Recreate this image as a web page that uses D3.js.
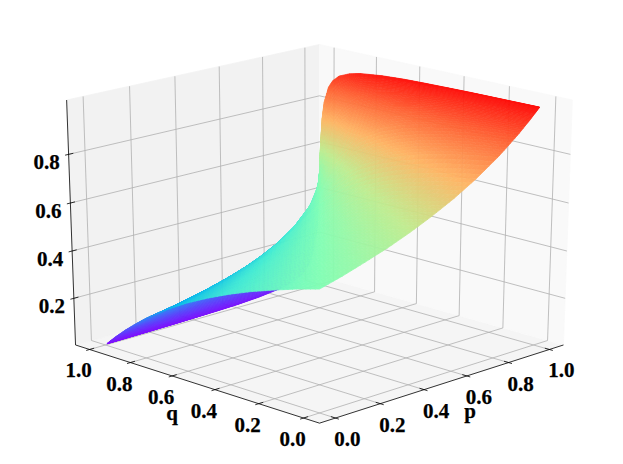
<!DOCTYPE html>
<html><head><meta charset="utf-8">
<script src="https://cdn.jsdelivr.net/npm/d3@7"></script>
<style>html,body{margin:0;padding:0;background:#fff}svg{display:block}
text{font-family:"Liberation Serif","Times New Roman",serif;font-weight:bold;font-size:21px;fill:#000;stroke:#000;stroke-width:.25;text-anchor:middle;dominant-baseline:central}</style>
</head><body><svg id="c" width="623" height="464"></svg>
<script>
// ---- data ----
const pValues = [0,.1,.2,.3,.4,.5,.6,.7,.8,.85,.9,.93,.95,.97,.98,.99,.993];
const qValues = [0,.1,.2,.3,.4,.5,.6,.7,.8,.85,.9,.93,.95,.97,.98,.99,.993];
const zQ000 = [.500,.526,.556,.588,.625,.667,.714,.769,.833,.870,.909,.935,.952,.971,.980,.990,.993];
const zQ010 = [.474,.500,.529,.563,.600,.643,.692,.750,.818,.857,.900,.928,.947,.968,.978,.989,.992];
const zQ020 = [.444,.471,.500,.533,.571,.615,.667,.727,.800,.842,.889,.920,.941,.964,.976,.988,.991];
const zQ030 = [.412,.438,.467,.500,.538,.583,.636,.700,.778,.824,.875,.909,.933,.959,.972,.986,.990];
const zQ040 = [.375,.400,.429,.462,.500,.545,.600,.667,.750,.800,.857,.896,.923,.952,.968,.984,.988];
const zQ050 = [.333,.357,.385,.417,.455,.500,.556,.625,.714,.769,.833,.877,.909,.943,.962,.980,.986];
const zQ060 = [.286,.308,.333,.364,.400,.444,.500,.571,.667,.727,.800,.851,.889,.930,.952,.976,.983];
const zQ070 = [.231,.250,.273,.300,.333,.375,.429,.500,.600,.667,.750,.811,.857,.909,.938,.968,.977];
const zQ080 = [.167,.182,.200,.222,.250,.286,.333,.400,.500,.571,.667,.741,.800,.870,.909,.952,.966];
const zQ085 = [.130,.143,.158,.176,.200,.231,.273,.333,.429,.500,.600,.682,.750,.833,.882,.938,.955];
const zQ090 = [.091,.100,.111,.125,.143,.167,.200,.250,.333,.400,.500,.588,.667,.769,.833,.909,.935];
const zQ093 = [.065,.072,.080,.091,.104,.123,.149,.189,.259,.318,.412,.500,.583,.700,.778,.875,.909];
const zQ095 = [.048,.053,.059,.067,.077,.091,.111,.143,.200,.250,.333,.417,.500,.625,.714,.833,.877];
const zQ097 = [.029,.032,.036,.041,.048,.057,.070,.091,.130,.167,.231,.300,.375,.500,.600,.750,.811];
const zQ098 = [.020,.022,.024,.028,.032,.038,.048,.063,.091,.118,.167,.222,.286,.400,.500,.667,.741];
const zQ099 = [.010,.011,.012,.014,.016,.020,.024,.032,.048,.063,.091,.125,.167,.250,.333,.500,.588];
const zQ0993 = [.007,.008,.009,.010,.012,.014,.017,.023,.034,.045,.065,.091,.123,.189,.259,.412,.500];
const zRows = [zQ000,zQ010,zQ020,zQ030,zQ040,zQ050,zQ060,zQ070,zQ080,zQ085,zQ090,zQ093,zQ095,zQ097,zQ098,zQ099,zQ0993];
const pTicks = [0,.2,.4,.6,.8,1];
const qTicks = [0,.2,.4,.6,.8,1];
const zTicks = [.2,.4,.6,.8];
const rainbowStops = ["#8000ff","#4062fa","#00b5ec","#40ecd4","#80ffb4","#bfec8e","#ffb462","#ff6232","#ff0000"];

// ---- view ----
const elev = 21*Math.PI/180, D = 10, S2 = Math.SQRT1_2;
const pMin=-.07,pMax=1.07,qMin=-.07,qMax=1.07,zMin=0,zMax=1.02;
const ps=d3.scaleLinear().domain([pMin,pMax]).range([-.5,.5]);
const qs=d3.scaleLinear().domain([qMin,qMax]).range([-.5,.5]);
const zs=d3.scaleLinear().domain([zMin,zMax]).range([-.5,.5]);
const sx=d3.scaleLinear().domain([-.1,.1]).range([319.5-351.2,319.5+351.2]);
const sy=d3.scaleLinear().domain([-.1,.1]).range([224.7+262.3,224.7-262.3]);
const se=Math.sin(elev),ce=Math.cos(elev);
function proj(p,q,z){
  const a=ps(p),b=qs(q),c=zs(z);
  const X=(a-b)*S2, Y=(a+b)*S2*se+c*ce, d=-(a+b)*S2*ce+c*se;
  return {x:sx(X/(D-d)),y:sy(Y/(D-d)),d};
}
const color=d3.scaleLinear().domain(rainbowStops.map((_,i)=>i/(rainbowStops.length-1))).range(rainbowStops).interpolate(d3.interpolateRgb);
const zNorm=d3.scaleLinear().domain([0,1]).clamp(true);

const svg=d3.select("#c");
const line3=(pts)=>d3.line().x(d=>d.x).y(d=>d.y)(pts.map(a=>proj(...a)));
// panes
const panes=[
 {f:"#f5f5f5",pts:[[pMin,qMin,zMin],[pMax,qMin,zMin],[pMax,qMax,zMin],[pMin,qMax,zMin]]},
 {f:"#f2f2f2",pts:[[pMin,qMax,zMin],[pMax,qMax,zMin],[pMax,qMax,zMax],[pMin,qMax,zMax]]},
 {f:"#f9f9f9",pts:[[pMax,qMin,zMin],[pMax,qMax,zMin],[pMax,qMax,zMax],[pMax,qMin,zMax]]}];
svg.append("g").selectAll("path").data(panes).join("path")
 .attr("d",d=>line3(d.pts)+"Z").attr("fill",d=>d.f).attr("stroke",d=>d.f).attr("stroke-width",.8);
// grid
const grid=[];
pTicks.forEach(t=>grid.push([[t,qMin,zMin],[t,qMax,zMin],[t,qMax,zMax]]));
qTicks.forEach(t=>grid.push([[pMin,t,zMin],[pMax,t,zMin],[pMax,t,zMax]]));
zTicks.forEach(t=>grid.push([[pMin,qMax,t],[pMax,qMax,t],[pMax,qMin,t]]));
svg.append("g").selectAll("path").data(grid).join("path")
 .attr("d",line3).attr("fill","none").attr("stroke","#b0b0b0").attr("stroke-width",.8);
// axis lines + ticks
const axes=[[[pMin,qMax,zMin],[pMin,qMin,zMin]],[[pMin,qMin,zMin],[pMax,qMin,zMin]],[[pMin,qMax,zMin],[pMin,qMax,zMax]]];
const ticks=[];
pTicks.forEach(t=>ticks.push([[t,qMin-.015,zMin],[t,qMin+.02,zMin]]));
qTicks.forEach(t=>ticks.push([[pMin-.015,t,zMin],[pMin+.02,t,zMin]]));
zTicks.forEach(t=>ticks.push([[pMin-.015,qMax,t],[pMin+.02,qMax,t]]));
const ga=svg.append("g").attr("fill","none").attr("stroke","#000").attr("stroke-width",.8);
ga.selectAll("path.a").data(axes).join("path").attr("class","a").attr("d",line3);
ga.selectAll("path.t").data(ticks).join("path").attr("class","t").attr("d",line3);

// surface facets: each table cell is shaded in small steps, back to front
const N=5, facets=[];
const corner=(i,j,u,v)=>{
  const p=pValues[j]+(pValues[j+1]-pValues[j])*u, q=qValues[i]+(qValues[i+1]-qValues[i])*v;
  const z=(zRows[i][j]*(1-u)+zRows[i][j+1]*u)*(1-v)+(zRows[i+1][j]*(1-u)+zRows[i+1][j+1]*u)*v;
  return [p,q,z];
};
for(let i=0;i<qValues.length-1;i++)for(let j=0;j<pValues.length-1;j++)
 for(let a=0;a<N;a++)for(let b=0;b<N;b++){
  const c=[corner(i,j,a/N,b/N),corner(i,j,(a+1)/N,b/N),corner(i,j,(a+1)/N,(b+1)/N),corner(i,j,a/N,(b+1)/N)];
  const pr=c.map(k=>proj(...k));
  facets.push({pr,d:d3.mean(pr,k=>k.d),z:d3.mean(c,k=>k[2])});
 }
facets.sort((m,n)=>m.d-n.d);
svg.append("g").attr("opacity",.96).selectAll("path").data(facets).join("path")
 .attr("d",f=>"M"+f.pr.map(k=>k.x.toFixed(2)+","+k.y.toFixed(2)).join("L")+"Z")
 .attr("fill",f=>color(zNorm(f.z))).attr("stroke",f=>color(zNorm(f.z))).attr("stroke-width",.7);

// tick labels
const fmt=d3.format(".1f");
const lab=[];
qTicks.forEach(t=>{const a=proj(pMin,t,zMin);lab.push({x:a.x-11,y:a.y+21,s:fmt(t)});});
pTicks.forEach(t=>{const a=proj(t,qMin,zMin);lab.push({x:a.x+12,y:a.y+21,s:fmt(t)});});
zTicks.forEach(t=>{const a=proj(pMin,qMax,t);lab.push({x:a.x-22,y:a.y+8,s:fmt(t)});});
lab.push({x:172,y:413,s:"q"},{x:470,y:411,s:"p"});
svg.append("g").selectAll("text").data(lab).join("text").attr("x",d=>d.x).attr("y",d=>d.y).text(d=>d.s);
</script></body></html>
